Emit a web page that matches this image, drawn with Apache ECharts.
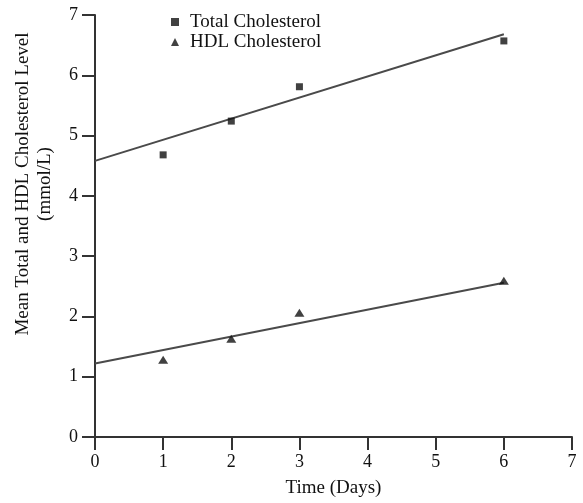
<!DOCTYPE html>
<html>
<head>
<meta charset="utf-8">
<script src="https://cdn.jsdelivr.net/npm/echarts@6/dist/echarts.min.js"></script>
<style>
html,body{margin:0;padding:0;background:#fff;}
#chart{width:583px;height:503px;}
</style>
</head>
<body>
<div id="chart"></div>
<script>
// Data
var days = [1, 2, 3, 6];
var totalChol = [4.68, 5.24, 5.81, 6.57];
var hdlChol = [1.28, 1.63, 2.06, 2.59];
// Trend lines (end points)
var fitDays = [0, 6];
var totalFit = [4.58, 6.68];
var hdlFit = [1.22, 2.56];
var xTicks = [0, 1, 2, 3, 4, 5, 6, 7];
var yTicks = [0, 1, 2, 3, 4, 5, 6, 7];

function pairs(xs, ys) { return xs.map(function (x, i) { return [x, ys[i]]; }); }

var FONT = '"Liberation Serif", "Times New Roman", serif';
var chart = echarts.init(document.getElementById('chart'));
chart.setOption({
  animation: false,
  backgroundColor: '#fff',
  textStyle: { fontFamily: FONT, color: '#111' },
  grid: { left: 95, right: 11, top: 15, bottom: 64, containLabel: false },
  legend: {
    orient: 'vertical',
    left: 166,
    top: 7,
    itemGap: 0,
    itemWidth: 8,
    itemHeight: 8,
    textStyle: { fontFamily: FONT, fontSize: 19, color: '#111', lineHeight: 20, padding: [0, 0, 0, 6] },
    data: [
      { name: 'Total Cholesterol', icon: 'rect' },
      { name: 'HDL Cholesterol', icon: 'triangle' }
    ]
  },
  xAxis: {
    type: 'value',
    min: xTicks[0], max: xTicks[xTicks.length - 1], interval: 1,
    name: 'Time (Days)',
    nameLocation: 'middle',
    nameGap: 42,
    nameTextStyle: { fontFamily: FONT, fontSize: 19, color: '#111' },
    axisLine: { lineStyle: { color: '#333', width: 2 } },
    axisTick: { length: 13, lineStyle: { color: '#333', width: 2 } },
    axisLabel: { fontFamily: FONT, fontSize: 18, color: '#111', margin: 16 },
    splitLine: { show: false }
  },
  yAxis: {
    type: 'value',
    min: yTicks[0], max: yTicks[yTicks.length - 1], interval: 1,
    name: 'Mean Total and HDL Cholesterol Level\n(mmol/L)',
    nameLocation: 'middle',
    nameGap: 39,
    nameTextStyle: { fontFamily: FONT, fontSize: 19, color: '#111', lineHeight: 22, padding: [0, 0, 0, 84] },
    axisLine: { lineStyle: { color: '#333', width: 2 } },
    axisTick: { length: 13, lineStyle: { color: '#333', width: 2 } },
    axisLabel: { fontFamily: FONT, fontSize: 18, color: '#111', margin: 17 },
    splitLine: { show: false }
  },
  series: [
    {
      name: 'Total Cholesterol', type: 'scatter', symbol: 'rect', symbolSize: 7,
      itemStyle: { color: '#111' },
      data: pairs(days, totalChol), z: 3
    },
    {
      name: 'HDL Cholesterol', type: 'scatter', symbol: 'triangle', symbolSize: [10, 8],
      itemStyle: { color: '#111' },
      data: pairs(days, hdlChol), z: 3
    },
    {
      name: 'Total fit', type: 'line', symbol: 'none', silent: true,
      lineStyle: { color: '#4a4a4a', width: 2 },
      data: pairs(fitDays, totalFit), z: 2
    },
    {
      name: 'HDL fit', type: 'line', symbol: 'none', silent: true,
      lineStyle: { color: '#4a4a4a', width: 2 },
      data: pairs(fitDays, hdlFit), z: 2
    }
  ]
});
</script>
</body>
</html>
